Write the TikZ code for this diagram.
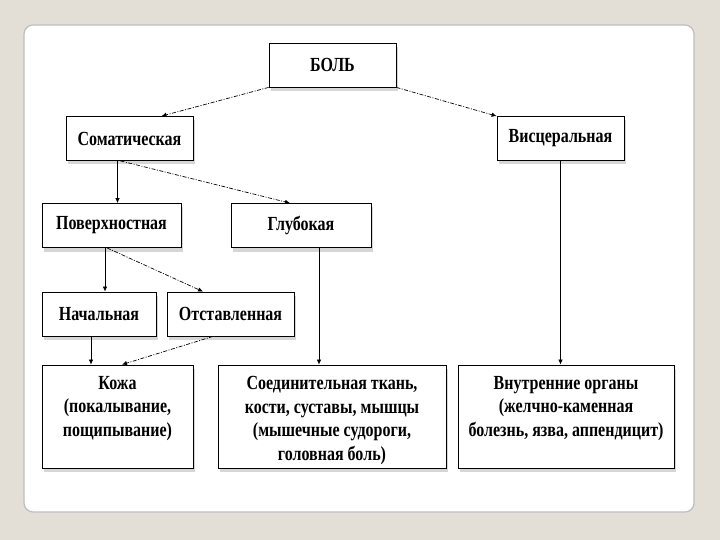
\documentclass[tikz,border=0pt]{standalone}
\usepackage{fontspec}
\setmainfont{Liberation Serif}[FakeStretch=0.8]
\usepackage{tikz}
\usetikzlibrary{calc}
\usetikzlibrary{positioning}
\usetikzlibrary{arrows.meta}
\usetikzlibrary{shadows}
\definecolor{slidebg}{RGB}{228,223,214}
\definecolor{panelline}{RGB}{190,190,190}

\begin{document}
\begin{tikzpicture}[x=1pt,y=-1pt,
    every node/.style = {align=center, font=\fontsize{20}{23.5}\selectfont\bfseries},
    box/.style = {draw, line width=0.8pt, fill=white, inner sep=0pt,
        drop shadow={shadow xshift=2pt, shadow yshift=-4pt, fill=gray!45, opacity=0.7}},
    sbox/.style = {box, minimum height=44pt},
    bbox/.style = {box, minimum height=103pt},
    btext/.style = {inner sep=0pt},
    link/.style = {-{Latex[length=5pt,width=4.5pt]}, line width=0.7pt},
    dlink/.style = {link, dash pattern=on 4pt off 1.5pt on 1pt off 1.5pt}]
\fill[slidebg] (0,0) rectangle (720,540);
\draw[panelline, fill=white, rounded corners=9pt, line width=1.2pt] (24,25) rectangle (694,512);

\node[sbox, minimum width=127pt] (bol) at (332.5,65) {БОЛЬ};
\node[sbox, minimum width=127pt] (som) at (129.5,138.5) {Соматическая};
\node[sbox, minimum width=127pt] (vis) at (560.5,138.5) {Висцеральная};
\node[sbox, minimum width=139pt] (pov) at (111.5,225.5) {Поверхностная};
\node[sbox, minimum width=140pt] (glub) at (301,225.5) {Глубокая};
\node[sbox, minimum width=114pt] (nach) at (99,314) {Начальная};
\node[sbox, minimum width=127pt] (otst) at (230.5,314) {Отставленная};
\node[bbox, minimum width=151pt] (koja) at (117.5,416.5) {};
\node[bbox, minimum width=228pt] (soed) at (332,416.5) {};
\node[bbox, minimum width=216pt] (vnutr) at (566,416.5) {};
\node[btext, below=11.5pt of koja.north] (kojatext) {Кожа\\(покалывание,\\пощипывание)};
\node[btext, below=11.5pt of soed.north] (soedtext) {Соединительная ткань,\\кости, суставы, мышцы\\(мышечные судороги,\\головная боль)};
\node[btext, below=11.5pt of vnutr.north] (vnutrtext) {Внутренние органы\\(желчно-каменная\\болезнь, язва, аппендицит)};

% vertical connectors start here
\coordinate (s1) at ([xshift=-12pt]som.south);
\coordinate (s2) at ([xshift=-6.5pt]pov.south);
\coordinate (s3) at ([xshift=-8pt]nach.south);
\coordinate (s4) at ([xshift=18pt]glub.south);

\draw [dlink] (bol.south west) -- ([xshift=32pt]som.north);
\draw [dlink] (bol.south east) -- (vis.north west);
\draw [link] (s1) -- (s1 |- pov.north);
\draw [dlink] ([xshift=-9pt]som.south) -- ([xshift=-11pt]glub.north);
\draw [link] (s2) -- (s2 |- nach.north);
\draw [dlink] ([xshift=-4.5pt]pov.south) -- ([xshift=-27.5pt]otst.north);
\draw [link] (s3) -- (s3 |- koja.north);
\draw [dlink] ([xshift=-17.5pt]otst.south) -- ([xshift=4.5pt]koja.north);
\draw [link] (s4) -- (s4 |- soed.north);
\draw [link] (vis.south) -- (vis.south |- vnutr.north);
\end{tikzpicture}
\end{document}
